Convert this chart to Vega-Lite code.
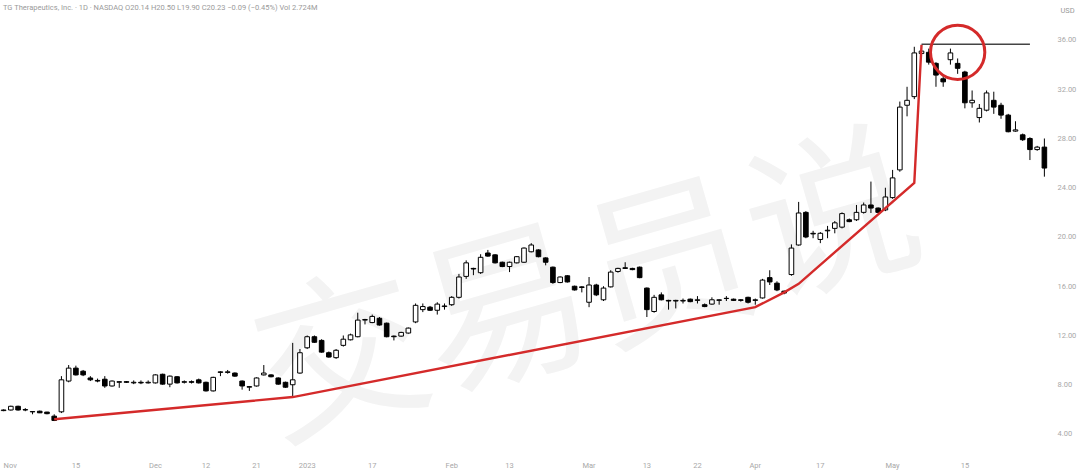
{
  "$schema": "https://vega.github.io/schema/vega-lite/v6.json",
  "width": 1048,
  "height": 439,
  "autosize": {"type": "none"},
  "padding": {"left": 0, "right": 32, "top": 16, "bottom": 17},
  "background": "white",
  "title": {"text": "TG Therapeutics, Inc. · 1D · NASDAQ   O20.14   H20.50   L19.90   C20.23   −0.09 (−0.45%)   Vol 2.724M", "anchor": "start", "frame": "group", "fontSize": 7.5, "fontWeight": "normal", "font": "Roboto", "color": "#9a9a9a", "offset": 0, "dx": 3, "dy": 5.5},
  "config": {"view": {"stroke": null}},
  "datasets": {
    "candles": [
      {"d":"2022-11-01","o":5.9,"h":6.0,"l":5.85,"c":5.95},
      {"d":"2022-11-02","o":5.95,"h":6.3,"l":5.9,"c":6.25},
      {"d":"2022-11-03","o":6.25,"h":6.3,"l":5.9,"c":5.95},
      {"d":"2022-11-04","o":5.98,"h":6.1,"l":5.85,"c":5.95},
      {"d":"2022-11-07","o":5.8,"h":5.85,"l":5.6,"c":5.82},
      {"d":"2022-11-08","o":5.85,"h":5.9,"l":5.7,"c":5.72},
      {"d":"2022-11-09","o":5.78,"h":5.8,"l":5.6,"c":5.65},
      {"d":"2022-11-10","o":5.45,"h":5.6,"l":5.05,"c":5.1},
      {"d":"2022-11-11","o":5.8,"h":8.7,"l":5.7,"c":8.4},
      {"d":"2022-11-14","o":8.3,"h":9.6,"l":8.2,"c":9.35},
      {"d":"2022-11-15","o":9.35,"h":9.55,"l":8.75,"c":8.8},
      {"d":"2022-11-16","o":9.1,"h":9.2,"l":8.7,"c":8.8},
      {"d":"2022-11-17","o":8.55,"h":8.7,"l":8.3,"c":8.4},
      {"d":"2022-11-18","o":8.35,"h":8.5,"l":8.2,"c":8.3},
      {"d":"2022-11-21","o":8.45,"h":8.7,"l":7.75,"c":7.9},
      {"d":"2022-11-22","o":7.9,"h":8.35,"l":7.85,"c":8.3},
      {"d":"2022-11-23","o":8.2,"h":8.3,"l":7.75,"c":8.25},
      {"d":"2022-11-25","o":8.25,"h":8.3,"l":8.15,"c":8.2},
      {"d":"2022-11-28","o":8.15,"h":8.35,"l":8.05,"c":8.2},
      {"d":"2022-11-29","o":8.2,"h":8.35,"l":8.05,"c":8.15},
      {"d":"2022-11-30","o":8.15,"h":8.35,"l":8.1,"c":8.2},
      {"d":"2022-12-01","o":8.15,"h":8.85,"l":8.1,"c":8.8},
      {"d":"2022-12-02","o":8.85,"h":8.9,"l":8.0,"c":8.05},
      {"d":"2022-12-05","o":8.05,"h":8.75,"l":7.8,"c":8.7},
      {"d":"2022-12-06","o":8.65,"h":8.7,"l":8.1,"c":8.15},
      {"d":"2022-12-07","o":8.2,"h":8.35,"l":8.1,"c":8.25},
      {"d":"2022-12-08","o":8.25,"h":8.35,"l":8.1,"c":8.2},
      {"d":"2022-12-09","o":8.4,"h":8.5,"l":8.1,"c":8.15},
      {"d":"2022-12-12","o":8.2,"h":8.25,"l":7.45,"c":7.5},
      {"d":"2022-12-13","o":7.5,"h":8.65,"l":7.45,"c":8.6},
      {"d":"2022-12-14","o":9.0,"h":9.1,"l":8.7,"c":9.05},
      {"d":"2022-12-15","o":9.0,"h":9.2,"l":8.9,"c":9.05},
      {"d":"2022-12-16","o":8.95,"h":9.0,"l":8.65,"c":8.7},
      {"d":"2022-12-19","o":8.3,"h":8.35,"l":7.6,"c":7.9},
      {"d":"2022-12-20","o":7.8,"h":7.9,"l":7.5,"c":7.85},
      {"d":"2022-12-21","o":7.9,"h":8.6,"l":7.85,"c":8.55},
      {"d":"2022-12-22","o":8.8,"h":9.6,"l":8.75,"c":8.95},
      {"d":"2022-12-23","o":8.8,"h":8.85,"l":8.6,"c":8.65},
      {"d":"2022-12-27","o":8.55,"h":8.6,"l":8.0,"c":8.05},
      {"d":"2022-12-28","o":8.2,"h":8.25,"l":7.75,"c":7.8},
      {"d":"2022-12-29","o":8.0,"h":11.4,"l":7.0,"c":8.4},
      {"d":"2022-12-30","o":8.95,"h":10.9,"l":8.9,"c":10.6},
      {"d":"2023-01-03","o":11.0,"h":12.0,"l":10.9,"c":11.9},
      {"d":"2023-01-04","o":11.9,"h":12.0,"l":11.4,"c":11.45},
      {"d":"2023-01-05","o":11.6,"h":11.7,"l":10.6,"c":10.65},
      {"d":"2023-01-06","o":10.6,"h":10.7,"l":10.2,"c":10.25},
      {"d":"2023-01-09","o":10.2,"h":10.9,"l":10.1,"c":10.8},
      {"d":"2023-01-10","o":11.2,"h":12.0,"l":11.1,"c":11.7},
      {"d":"2023-01-11","o":11.65,"h":12.15,"l":11.6,"c":12.05},
      {"d":"2023-01-12","o":11.9,"h":13.85,"l":11.85,"c":13.25},
      {"d":"2023-01-13","o":13.25,"h":13.35,"l":12.9,"c":13.3},
      {"d":"2023-01-17","o":13.05,"h":13.7,"l":13.0,"c":13.55},
      {"d":"2023-01-18","o":13.4,"h":13.5,"l":12.8,"c":12.85},
      {"d":"2023-01-19","o":13.0,"h":13.05,"l":11.85,"c":11.9},
      {"d":"2023-01-20","o":11.95,"h":12.0,"l":11.6,"c":11.9},
      {"d":"2023-01-23","o":11.95,"h":12.3,"l":11.9,"c":12.25},
      {"d":"2023-01-24","o":12.2,"h":12.65,"l":12.15,"c":12.6},
      {"d":"2023-01-25","o":13.1,"h":14.6,"l":13.0,"c":14.45},
      {"d":"2023-01-26","o":14.1,"h":14.6,"l":13.9,"c":14.35},
      {"d":"2023-01-27","o":14.3,"h":14.4,"l":14.0,"c":14.05},
      {"d":"2023-01-30","o":14.05,"h":14.7,"l":13.7,"c":14.55},
      {"d":"2023-01-31","o":14.35,"h":14.6,"l":14.1,"c":14.4},
      {"d":"2023-02-01","o":14.5,"h":15.2,"l":14.4,"c":15.1},
      {"d":"2023-02-02","o":15.1,"h":17.0,"l":15.0,"c":16.75},
      {"d":"2023-02-03","o":16.8,"h":18.1,"l":16.6,"c":17.9},
      {"d":"2023-02-06","o":17.45,"h":17.5,"l":16.9,"c":17.4},
      {"d":"2023-02-07","o":17.1,"h":18.6,"l":17.0,"c":18.35},
      {"d":"2023-02-08","o":18.7,"h":18.95,"l":18.4,"c":18.45},
      {"d":"2023-02-09","o":18.55,"h":18.6,"l":17.85,"c":17.9},
      {"d":"2023-02-10","o":17.95,"h":18.0,"l":17.55,"c":17.6},
      {"d":"2023-02-13","o":17.6,"h":18.0,"l":17.15,"c":17.95},
      {"d":"2023-02-14","o":17.9,"h":18.45,"l":17.85,"c":18.4},
      {"d":"2023-02-15","o":17.95,"h":19.15,"l":17.9,"c":19.1},
      {"d":"2023-02-16","o":18.8,"h":19.5,"l":18.75,"c":19.35},
      {"d":"2023-02-17","o":18.95,"h":19.0,"l":18.35,"c":18.4},
      {"d":"2023-02-21","o":18.3,"h":18.35,"l":17.7,"c":17.95},
      {"d":"2023-02-22","o":17.55,"h":17.6,"l":16.2,"c":16.3},
      {"d":"2023-02-23","o":16.3,"h":16.8,"l":16.25,"c":16.75},
      {"d":"2023-02-24","o":16.85,"h":16.9,"l":16.3,"c":16.35},
      {"d":"2023-02-27","o":16.0,"h":16.05,"l":15.65,"c":15.7},
      {"d":"2023-02-28","o":15.95,"h":16.0,"l":15.5,"c":15.9},
      {"d":"2023-03-01","o":14.7,"h":16.75,"l":14.3,"c":16.1},
      {"d":"2023-03-02","o":16.1,"h":16.2,"l":15.2,"c":15.3},
      {"d":"2023-03-03","o":14.9,"h":16.0,"l":14.8,"c":15.85},
      {"d":"2023-03-06","o":15.95,"h":17.3,"l":15.9,"c":17.15},
      {"d":"2023-03-07","o":17.2,"h":17.5,"l":17.1,"c":17.45},
      {"d":"2023-03-08","o":17.5,"h":17.95,"l":17.4,"c":17.45},
      {"d":"2023-03-09","o":17.45,"h":17.5,"l":17.3,"c":17.35},
      {"d":"2023-03-10","o":17.55,"h":17.6,"l":16.65,"c":16.7},
      {"d":"2023-03-13","o":15.85,"h":15.9,"l":13.5,"c":14.1},
      {"d":"2023-03-14","o":13.95,"h":15.3,"l":13.85,"c":15.1},
      {"d":"2023-03-15","o":15.3,"h":15.5,"l":14.85,"c":14.9},
      {"d":"2023-03-16","o":14.85,"h":14.9,"l":14.1,"c":14.8},
      {"d":"2023-03-17","o":14.8,"h":14.9,"l":14.2,"c":14.85},
      {"d":"2023-03-20","o":14.8,"h":15.0,"l":14.6,"c":14.85},
      {"d":"2023-03-21","o":14.95,"h":15.0,"l":14.7,"c":14.75},
      {"d":"2023-03-22","o":14.85,"h":15.2,"l":14.6,"c":14.9},
      {"d":"2023-03-23","o":14.5,"h":14.6,"l":14.3,"c":14.35},
      {"d":"2023-03-24","o":14.55,"h":15.1,"l":14.5,"c":14.9},
      {"d":"2023-03-27","o":14.85,"h":14.95,"l":14.5,"c":14.9},
      {"d":"2023-03-28","o":15.0,"h":15.2,"l":14.8,"c":15.02},
      {"d":"2023-03-29","o":14.95,"h":15.0,"l":14.8,"c":14.85},
      {"d":"2023-03-30","o":14.9,"h":14.95,"l":14.75,"c":14.85},
      {"d":"2023-03-31","o":15.1,"h":15.15,"l":14.6,"c":14.7},
      {"d":"2023-04-03","o":14.85,"h":15.0,"l":14.5,"c":14.9},
      {"d":"2023-04-04","o":15.05,"h":16.6,"l":15.0,"c":16.5},
      {"d":"2023-04-05","o":16.7,"h":17.3,"l":16.1,"c":16.35},
      {"d":"2023-04-06","o":16.25,"h":16.4,"l":15.6,"c":15.7},
      {"d":"2023-04-10","o":15.6,"h":15.65,"l":15.35,"c":15.45},
      {"d":"2023-04-11","o":16.95,"h":19.4,"l":16.85,"c":19.1},
      {"d":"2023-04-12","o":19.35,"h":22.85,"l":19.3,"c":21.95},
      {"d":"2023-04-13","o":22.0,"h":22.1,"l":19.9,"c":20.0},
      {"d":"2023-04-14","o":20.3,"h":20.5,"l":19.9,"c":20.25},
      {"d":"2023-04-17","o":19.8,"h":20.4,"l":19.5,"c":20.3},
      {"d":"2023-04-18","o":20.5,"h":20.9,"l":19.9,"c":20.55},
      {"d":"2023-04-19","o":20.7,"h":21.3,"l":20.3,"c":21.15},
      {"d":"2023-04-20","o":20.8,"h":22.0,"l":20.7,"c":21.9},
      {"d":"2023-04-21","o":21.4,"h":21.5,"l":21.2,"c":21.25},
      {"d":"2023-04-24","o":21.4,"h":22.6,"l":21.3,"c":22.0},
      {"d":"2023-04-25","o":22.0,"h":22.8,"l":21.9,"c":22.6},
      {"d":"2023-04-26","o":22.6,"h":24.5,"l":21.95,"c":22.35},
      {"d":"2023-04-27","o":22.35,"h":22.4,"l":21.95,"c":22.0},
      {"d":"2023-04-28","o":22.2,"h":24.0,"l":22.1,"c":23.25},
      {"d":"2023-05-01","o":23.2,"h":25.45,"l":23.1,"c":24.8},
      {"d":"2023-05-02","o":25.45,"h":31.0,"l":25.3,"c":30.55},
      {"d":"2023-05-03","o":30.7,"h":32.2,"l":29.8,"c":31.1},
      {"d":"2023-05-04","o":31.4,"h":35.45,"l":31.2,"c":34.95},
      {"d":"2023-05-05","o":34.9,"h":35.6,"l":34.7,"c":35.1},
      {"d":"2023-05-08","o":35.0,"h":35.3,"l":34.0,"c":34.2},
      {"d":"2023-05-09","o":34.1,"h":34.2,"l":32.2,"c":33.15},
      {"d":"2023-05-10","o":32.85,"h":33.2,"l":32.2,"c":32.6},
      {"d":"2023-05-11","o":34.4,"h":35.3,"l":34.0,"c":34.95},
      {"d":"2023-05-12","o":34.1,"h":34.5,"l":33.25,"c":33.7},
      {"d":"2023-05-15","o":33.4,"h":33.5,"l":30.45,"c":30.9},
      {"d":"2023-05-16","o":30.9,"h":31.9,"l":30.5,"c":31.1},
      {"d":"2023-05-17","o":29.7,"h":30.8,"l":29.3,"c":30.45},
      {"d":"2023-05-18","o":30.3,"h":31.9,"l":30.2,"c":31.7},
      {"d":"2023-05-19","o":31.1,"h":31.8,"l":30.0,"c":30.55},
      {"d":"2023-05-22","o":30.7,"h":30.9,"l":29.6,"c":29.9},
      {"d":"2023-05-23","o":29.9,"h":30.0,"l":28.5,"c":28.55},
      {"d":"2023-05-24","o":28.6,"h":29.4,"l":28.55,"c":28.7},
      {"d":"2023-05-25","o":28.3,"h":28.4,"l":27.8,"c":27.9},
      {"d":"2023-05-26","o":28.0,"h":28.1,"l":26.25,"c":27.1},
      {"d":"2023-05-30","o":27.1,"h":27.4,"l":27.0,"c":27.3},
      {"d":"2023-05-31","o":27.3,"h":28.0,"l":24.9,"c":25.6}
    ],
    "trend": [
      {"d":"2022-11-10","p":5.2},
      {"d":"2022-12-29","p":7.0},
      {"d":"2023-04-03","p":14.3},
      {"d":"2023-04-10","p":15.5},
      {"d":"2023-04-12","p":16.2},
      {"d":"2023-05-04","p":24.4},
      {"d":"2023-05-05","p":35.6}
    ],
    "peak": [{"d":"2023-05-05","d2":"2023-05-26","p":35.65}],
    "ring": [{"d":"2023-05-12","p":35.0}],
    "mark": [{"d":"2023-03-01","p":15.3,"t":"交易员说"}]
  },
  "encoding": {
    "x": {"field": "d", "type": "ordinal", "scale": {"type": "band", "paddingInner": 0, "paddingOuter": 0}, "sort": "ascending",
      "axis": {"title": null, "orient": "bottom", "domain": false, "ticks": false, "grid": false, "labelAngle": 0,
        "labelFontSize": 7.5, "labelFont": "Roboto", "labelColor": "#a8a8a8", "labelPadding": 6, "labelFlush": 10,
        "values": ["2022-11-01","2022-11-15","2022-12-01","2022-12-12","2022-12-21","2023-01-03","2023-01-17","2023-02-01","2023-02-13","2023-03-01","2023-03-13","2023-03-22","2023-04-03","2023-04-17","2023-05-01","2023-05-15"],
        "labelExpr": "datum.value == '2022-11-01' ? 'Nov' : datum.value == '2022-12-01' ? 'Dec' : datum.value == '2023-01-03' ? '2023' : datum.value == '2023-02-01' ? 'Feb' : datum.value == '2023-03-01' ? 'Mar' : datum.value == '2023-04-03' ? 'Apr' : datum.value == '2023-05-01' ? 'May' : '' + parseInt(substring(datum.value, 8, 10))"}}
  },
  "layer": [
    {
      "data": {"name": "mark"},
      "mark": {"type": "text", "fontSize": 170, "angle": -16, "color": "#f3f3f3", "font": "Noto Sans CJK SC", "align": "center", "baseline": "middle"},
      "encoding": {
        "x": {"field": "d", "type": "ordinal", "bandPosition": 0.5},
        "y": {"field": "p", "type": "quantitative", "scale": {"domain": [2.294, 37.949], "nice": false, "zero": false}},
        "text": {"field": "t"}
      }
    },
    {
      "data": {"name": "candles"},
      "mark": {"type": "rule", "color": "#000000", "strokeWidth": 1},
      "encoding": {
        "x": {"field": "d", "type": "ordinal", "bandPosition": 0.5},
        "y": {"field": "l", "type": "quantitative", "scale": {"domain": [2.294, 37.949], "nice": false, "zero": false},
          "axis": {"title": "USD", "orient": "right", "values": [4,6,8,10,12,14,16,18,20,22,24,26,28,30,32,34,36], "format": ".2f", "domain": false, "ticks": false, "grid": false,
            "labelFontSize": 7.5, "labelFont": "Roboto", "labelColor": "#a8a8a8", "labelPadding": 9,
            "titleAngle": 0, "titleAlign": "left", "titleBaseline": "middle", "titleX": 12, "titleY": -6, "titleFontSize": 7.5, "titleFont": "Roboto", "titleFontWeight": "normal", "titleColor": "#9a9a9a"}},
        "y2": {"field": "h"}
      }
    },
    {
      "data": {"name": "candles"},
      "mark": {"type": "bar", "width": 4.6, "stroke": "#000000", "strokeWidth": 1},
      "encoding": {
        "x": {"field": "d", "type": "ordinal"},
        "y": {"field": "o", "type": "quantitative"},
        "y2": {"field": "c"},
        "fill": {"condition": {"test": "datum.c >= datum.o", "value": "#ffffff"}, "value": "#000000"}
      }
    },
    {
      "data": {"name": "trend"},
      "mark": {"type": "line", "color": "#d42a2a", "strokeWidth": 2.4},
      "encoding": {
        "x": {"field": "d", "type": "ordinal", "bandPosition": 0.5},
        "y": {"field": "p", "type": "quantitative"}
      }
    },
    {
      "data": {"name": "peak"},
      "mark": {"type": "rule", "color": "#444444", "strokeWidth": 1.4},
      "encoding": {
        "x": {"field": "d", "type": "ordinal", "bandPosition": 0.5},
        "x2": {"field": "d2"},
        "y": {"field": "p", "type": "quantitative"}
      }
    },
    {
      "data": {"name": "ring"},
      "mark": {"type": "point", "shape": "circle", "filled": false, "size": 2950, "stroke": "#d42a2a", "strokeWidth": 3, "opacity": 1},
      "encoding": {
        "x": {"field": "d", "type": "ordinal", "bandPosition": 0.5},
        "y": {"field": "p", "type": "quantitative"}
      }
    }
  ]
}
